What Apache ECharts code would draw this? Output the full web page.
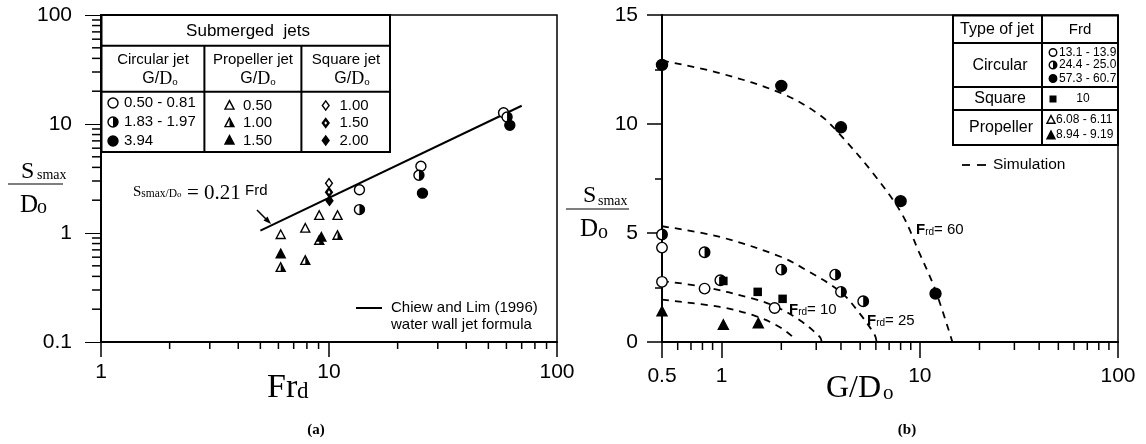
<!DOCTYPE html>
<html>
<head>
<meta charset="utf-8">
<script src="https://cdn.jsdelivr.net/npm/echarts@6/dist/echarts.min.js"></script>
<style>
  html, body { margin: 0; padding: 0; background: #fff; }
  #wrap { position: relative; width: 1146px; height: 444px; }
  #axes, #plot { position: absolute; left: 0; top: 0; width: 1146px; height: 444px; }
</style>
</head>
<body>
<div id="wrap"><div id="axes"></div><div id="plot"></div></div>
<script>
// ---------- (a) Ssmax/Do against densimetric Froude number Frd ----------
// Circular jets, by G/Do class
const circOpenA = [[13.6, 2.49], [25.3, 4.1], [58.3, 12.7]];     // G/Do 0.50 - 0.81
const circHalfA = [[13.6, 1.64], [24.8, 3.39], [60.4, 11.6]];    // G/Do 1.83 - 1.97
const circFullA = [[25.7, 2.32], [62.1, 9.72]];                  // G/Do 3.94
// Propeller jets
const propOpenA = [[6.14, 0.96], [7.87, 1.10], [9.06, 1.44], [10.9, 1.44]];  // G/Do 0.50
const propHalfA = [[6.14, 0.48], [7.87, 0.556], [9.06, 0.85], [10.9, 0.945]]; // G/Do 1.00
const propFullA = [[6.14, 0.64], [9.26, 0.91]];                               // G/Do 1.50
// Square jets
const sqOpenA = [[10.0, 2.86]];   // G/Do 1.00
const sqHalfA = [[10.0, 2.37]];   // G/Do 1.50
const sqFullA = [[10.05, 1.98]];  // G/Do 2.00
// Chiew and Lim (1996): Ssmax/Do = 0.21 Frd
const fitCoef = 0.21;
const fitFrd = [5, 70];

// ---------- (b) Ssmax/Do against G/Do ----------
const circOpenB = [[0.5, 4.33], [0.5, 2.76], [0.82, 2.45], [1.85, 1.56]];               // Frd 13.1 - 13.9
const circHalfB = [[0.5, 4.93], [0.82, 4.12], [0.985, 2.83], [2.0, 3.32], [3.74, 3.09], [4.0, 2.30], [5.18, 1.87]]; // Frd 24.4 - 25.0
const circFullB = [[0.5, 12.71], [2.0, 11.75], [4.0, 9.85], [8.0, 6.46], [12.0, 2.22]]; // Frd 57.3 - 60.7
const squareB = [[1.02, 2.80], [1.52, 2.30], [2.03, 1.98]];                              // Frd 10
const propFullB = [[0.5, 1.38], [1.02, 0.77], [1.53, 0.84]];                             // Frd 8.94 - 9.19
// Simulation curves
const sim60 = [[0.5, 12.91], [0.98, 12.33], [2.0, 11.41], [3.13, 10.41], [3.98, 9.49], [5.82, 7.73], [8.09, 5.90], [9.97, 4.06], [11.9, 2.45], [14.6, 0]];
const sim25 = [[0.5, 5.31], [0.98, 4.82], [2.0, 3.90], [2.68, 3.29], [3.98, 2.30], [4.98, 1.30], [5.93, 0.31], [6.05, 0]];
const sim10 = [[0.5, 2.80], [0.806, 2.53], [1.44, 1.99], [1.89, 1.61], [2.48, 1.00], [3.13, 0.23], [3.2, 0]];
const sim6 = [[0.5, 1.94], [0.98, 1.61], [1.44, 1.23], [1.89, 0.77], [2.29, 0.23], [2.35, 0]];

// Minor tick values on the log axes
const minorLogA_x = [2, 3, 4, 5, 6, 7, 8, 9, 20, 30, 40, 50, 60, 70, 80, 90];
const minorLogA_y = [0.2, 0.3, 0.4, 0.5, 0.6, 0.7, 0.8, 0.9, 2, 3, 4, 5, 6, 7, 8, 9, 20, 30, 40, 50, 60, 70, 80, 90];
const minorLogB_x = [0.6, 0.7, 0.8, 0.9, 2, 3, 4, 5, 6, 7, 8, 9, 20, 30, 40, 50, 60, 70, 80, 90];

const SANS = '"Liberation Sans", Arial, sans-serif';
const SERIF = '"Liberation Serif", "Times New Roman", serif';
const K = '#000', W = '#fff';

// Shared layout of the two panels
const gridA = { left: 101, top: 15, width: 456, height: 327 };
const gridB = { left: 662, top: 15, width: 456, height: 327 };

// Marker drawing shared by plot series and table keys
function markerParts(kind, fill, x, y, s, z) {
  const lw = 1.4, h = s / 2;
  let parts;
  if (kind === 'circle') {
    parts = [{ type: 'circle', shape: { cx: x, cy: y, r: h }, style: { fill: fill === 'full' ? K : W, stroke: K, lineWidth: lw } }];
    if (fill === 'half') parts.push({ type: 'sector', shape: { cx: x, cy: y, r0: 0, r: h, startAngle: -Math.PI / 2, endAngle: Math.PI / 2, clockwise: true }, style: { fill: K } });
  } else if (kind === 'triangle') {
    const top = [x, y - 0.55 * s], bl = [x - h, y + 0.4 * s], br = [x + h, y + 0.4 * s];
    parts = [{ type: 'polygon', shape: { points: [top, br, bl] }, style: { fill: fill === 'full' ? K : W, stroke: K, lineWidth: lw } }];
    if (fill === 'half') parts.push({ type: 'polygon', shape: { points: [top, br, [x, y + 0.4 * s]] }, style: { fill: K } });
  } else if (kind === 'diamond') {
    const pts = [[x, y - h * 1.15], [x + h * 0.85, y], [x, y + h * 1.15], [x - h * 0.85, y]];
    parts = [{ type: 'polygon', shape: { points: pts }, style: { fill: fill === 'open' ? W : K, stroke: K, lineWidth: lw } }];
    if (fill === 'half') parts.push({ type: 'polygon', shape: { points: pts.map(p => [x + (p[0] - x) * 0.4, y + (p[1] - y) * 0.4]) }, style: { fill: W } });
  } else {
    parts = [{ type: 'rect', shape: { x: x - h, y: y - h, width: s, height: s }, style: { fill: K } }];
  }
  if (z) parts.forEach((p, i) => { p.z = z; p.z2 = i; });
  return parts;
}

function markerSeries(data, kind, fill, size, idx) {
  return {
    type: 'custom', xAxisIndex: idx, yAxisIndex: idx, data: data, z: 6,
    renderItem: function (params, api) {
      const c = api.coord([api.value(0), api.value(1)]);
      return { type: 'group', children: markerParts(kind, fill, c[0], c[1], size) };
    }
  };
}

function simSeries(data) {
  return {
    type: 'line', xAxisIndex: 1, yAxisIndex: 1, data: data, smooth: 0.35, symbol: 'none', z: 4,
    lineStyle: { color: K, width: 1.8, type: [7, 6] }
  };
}

function txt(x, y, text, size, o) {
  o = o || {};
  return {
    type: 'text', x: x, y: y, z: 20, silent: true,
    style: {
      text: text, fill: K, fontSize: size, fontFamily: o.family || SANS, fontWeight: o.weight || 'normal',
      align: o.align || 'left', verticalAlign: 'middle', rich: o.rich
    }
  };
}
function ln(x1, y1, x2, y2, w) {
  return { type: 'line', z: 19, silent: true, shape: { x1: x1, y1: y1, x2: x2, y2: y2 }, style: { stroke: K, lineWidth: w || 2 } };
}
function keyGroup(kind, fill, x, y, s) {
  return { type: 'group', silent: true, children: markerParts(kind, fill, x, y, s, 21) };
}

const gdRich = {
  g: { fontFamily: SANS, fontSize: 16 },
  d: { fontFamily: SERIF, fontSize: 18 },
  o: { fontFamily: SERIF, fontSize: 11, verticalAlign: 'bottom' }
};
const gdText = '{g|G}{g|/}{d|D}{o|o}';
const frRich = {
  b: { fontFamily: SANS, fontSize: 15, fontWeight: 'bold' },
  s: { fontFamily: SANS, fontSize: 10, verticalAlign: 'bottom' },
  n: { fontFamily: SANS, fontSize: 15 }
};

const graphics = [
  // ---- table of submerged jets (a) ----
  { type: 'rect', z: 18, silent: true, shape: { x: 101.5, y: 15, width: 288.5, height: 137 }, style: { fill: W, stroke: K, lineWidth: 2 } },
  ln(101.5, 45.7, 390, 45.7), ln(101.5, 91.7, 390, 91.7),
  ln(204.4, 45.7, 204.4, 152), ln(301.4, 45.7, 301.4, 152),
  txt(248, 31, 'Submerged  jets', 17, { align: 'center' }),
  txt(153, 60, 'Circular jet', 15, { align: 'center' }),
  txt(253, 60, 'Propeller jet', 15, { align: 'center' }),
  txt(346, 60, 'Square jet', 15, { align: 'center' }),
  txt(160, 79, gdText, 16, { align: 'center', rich: gdRich }),
  txt(258, 79, gdText, 16, { align: 'center', rich: gdRich }),
  txt(352, 79, gdText, 16, { align: 'center', rich: gdRich }),
  keyGroup('circle', 'open', 113, 103, 10), txt(124, 103, '0.50 - 0.81', 15),
  keyGroup('circle', 'half', 113, 122, 10), txt(124, 122, '1.83 - 1.97', 15),
  keyGroup('circle', 'full', 113, 141, 10), txt(124, 141, '3.94', 15),
  keyGroup('triangle', 'open', 229.5, 105.5, 9), txt(243, 105.5, '0.50', 15),
  keyGroup('triangle', 'half', 229.5, 123, 9), txt(243, 123, '1.00', 15),
  keyGroup('triangle', 'full', 229.5, 140.5, 9), txt(243, 140.5, '1.50', 15),
  keyGroup('diamond', 'open', 325.7, 105.5, 8), txt(339.5, 105.5, '1.00', 15),
  keyGroup('diamond', 'half', 325.7, 123, 8), txt(339.5, 123, '1.50', 15),
  keyGroup('diamond', 'full', 325.7, 140.5, 8), txt(339.5, 140.5, '2.00', 15),
  // ---- Chiew and Lim key (a) ----
  ln(356, 308, 382, 308, 2),
  txt(391, 308, 'Chiew and Lim (1996)', 15),
  txt(391, 325, 'water wall jet formula', 15),
  // ---- formula annotation with arrow (a) ----
  txt(133, 192, '{S|S}{s|smax/D}{o|o}', 14, { family: SERIF, rich: {
    S: { fontFamily: SERIF, fontSize: 15 },
    s: { fontFamily: SERIF, fontSize: 11.5, verticalAlign: 'bottom' },
    o: { fontFamily: SERIF, fontSize: 9, verticalAlign: 'bottom' } } }),
  txt(187, 193, '= 0.21', 21, { family: SERIF }),
  txt(245, 191, 'Frd', 15),
  ln(257, 210, 268, 221, 1.5),
  { type: 'polygon', z: 19, silent: true, shape: { points: [[271, 224], [263.5, 220.5], [267.5, 216.5]] }, style: { fill: K } },
  // ---- axis titles (a) ----
  txt(21, 172, 'S', 24, { family: SERIF }),
  txt(37, 175.5, 'smax', 14, { family: SERIF }),
  { type: 'line', z: 19, silent: true, shape: { x1: 8, y1: 184, x2: 63, y2: 184 }, style: { stroke: '#555', lineWidth: 1.5 } },
  txt(20, 205, 'D', 25, { family: SERIF }),
  txt(37, 208, 'o', 20, { family: SERIF }),
  txt(267, 388, 'Fr', 34, { family: SERIF }),
  txt(297, 392, 'd', 23, { family: SERIF }),
  txt(316, 430, '(a)', 15, { family: SERIF, weight: 'bold', align: 'center' }),

  // ---- table of jet types (b) ----
  { type: 'rect', z: 18, silent: true, shape: { x: 953, y: 15.5, width: 165, height: 129.5 }, style: { fill: W, stroke: K, lineWidth: 2 } },
  ln(1042, 15.5, 1042, 145), ln(953, 43, 1118, 43), ln(953, 87, 1118, 87), ln(953, 110, 1118, 110),
  txt(997, 30, 'Type of jet', 16, { align: 'center' }),
  txt(1080, 30, 'Frd', 15, { align: 'center' }),
  txt(1000, 66, 'Circular', 16, { align: 'center' }),
  txt(1000, 99, 'Square', 16, { align: 'center' }),
  txt(1001, 128, 'Propeller', 16, { align: 'center' }),
  keyGroup('circle', 'open', 1053, 52.5, 7.5), txt(1059, 52.5, '13.1 - 13.9', 12),
  keyGroup('circle', 'half', 1053, 65, 7.5), txt(1059, 65, '24.4 - 25.0', 12),
  keyGroup('circle', 'full', 1053, 78.5, 7.5), txt(1059, 78.5, '57.3 - 60.7', 12),
  keyGroup('square', 'full', 1053, 99, 7), txt(1083, 99, '10', 12, { align: 'center' }),
  keyGroup('triangle', 'open', 1051, 120, 8), txt(1056, 119.5, '6.08 - 6.11', 12),
  keyGroup('triangle', 'full', 1051, 135.5, 8), txt(1056, 135, '8.94 - 9.19', 12),
  // ---- simulation key (b) ----
  ln(962, 165, 970, 165, 1.8), ln(977, 165, 986, 165, 1.8),
  txt(993, 165, 'Simulation', 15.5),
  // ---- curve labels (b) ----
  txt(916, 230, '{b|F}{s|rd}{n|= 60}', 15, { rich: frRich }),
  txt(789, 310, '{b|F}{s|rd}{n|= 10}', 15, { rich: frRich }),
  txt(867, 321, '{b|F}{s|rd}{n|= 25}', 15, { rich: frRich }),
  // ---- axis titles (b) ----
  txt(583, 195.5, 'S', 24, { family: SERIF }),
  txt(598, 201, 'smax', 14, { family: SERIF }),
  { type: 'line', z: 19, silent: true, shape: { x1: 566, y1: 209, x2: 629, y2: 209 }, style: { stroke: '#555', lineWidth: 1.5 } },
  txt(580, 229, 'D', 25, { family: SERIF }),
  txt(598, 233, 'o', 20, { family: SERIF }),
  txt(826, 389, 'G/D', 32, { family: SERIF }),
  txt(883, 393, 'o', 21, { family: SERIF }),
  txt(907, 430, '(b)', 15, { family: SERIF, weight: 'bold', align: 'center' })
];

// ---------- layer 1: frames, axes, ticks, tick labels, fit line ----------
const axesChart = echarts.init(document.getElementById('axes'), null, { renderer: 'canvas' });
axesChart.setOption({
  animation: false,
  backgroundColor: '#fff',
  grid: [
    { left: gridA.left, top: gridA.top, width: gridA.width, height: gridA.height, show: true, borderColor: K, borderWidth: 1.5, backgroundColor: 'transparent', containLabel: false },
    { left: gridB.left, top: gridB.top, width: gridB.width, height: gridB.height, show: true, borderColor: K, borderWidth: 1.5, backgroundColor: 'transparent', containLabel: false, outerBoundsMode: 'none' }
  ],
  xAxis: [
    { gridIndex: 0, type: 'log', logBase: 10, min: 1, max: 100, axisLine: { show: true, lineStyle: { color: K, width: 2 } },
      axisTick: { show: true, length: 15, lineStyle: { color: K, width: 1.5 } }, axisLabel: { margin: 20, color: K, fontSize: 21, fontFamily: SANS }, splitLine: { show: false } },
    { gridIndex: 1, type: 'log', logBase: 10, min: 0.5, max: 100, axisLine: { show: true, lineStyle: { color: K, width: 2 } },
      axisTick: { show: true, length: 16, lineStyle: { color: K, width: 1.5 } }, axisLabel: { margin: 24, color: K, fontSize: 21 }, splitLine: { show: false } }
  ],
  yAxis: [
    { gridIndex: 0, type: 'log', logBase: 10, min: 0.1, max: 100, axisLine: { show: true, lineStyle: { color: K, width: 2 } },
      axisTick: { show: true, length: 16, lineStyle: { color: K } }, axisLabel: { margin: 29, color: K, fontSize: 21 }, splitLine: { show: false } },
    { gridIndex: 1, type: 'value', min: 0, max: 15, interval: 5, axisLine: { show: true, lineStyle: { color: K, width: 2 } },
      axisTick: { show: true, length: 15, lineStyle: { color: K, width: 1.5 } },
      minorTick: { show: true, splitNumber: 2, length: 7, lineStyle: { color: K, width: 1.5 } },
      axisLabel: { margin: 24, color: K, fontSize: 21 }, splitLine: { show: false }, minorSplitLine: { show: false } }
  ],
  series: [
    { type: 'line', xAxisIndex: 0, yAxisIndex: 0, symbol: 'none', showSymbol: false,
      data: fitFrd.map(f => [f, fitCoef * f]), lineStyle: { color: K, width: 2 } },
    markerSeries(circFullB, 'circle', 'full', 11, 1)
  ]
});

// Minor ticks for the log axes, positioned through each grid's scales
function minorTicks(values, dir, gridIndex, ref, len) {
  return values.map(v => {
    const p = axesChart.convertToPixel({ gridIndex: gridIndex }, dir === 'x' ? [v, ref] : [ref, v]);
    return dir === 'x'
      ? { type: 'line', shape: { x1: p[0], y1: p[1], x2: p[0], y2: p[1] + len }, style: { stroke: K, lineWidth: 1.5 } }
      : { type: 'line', shape: { x1: p[0] - len, y1: p[1], x2: p[0], y2: p[1] }, style: { stroke: K, lineWidth: 1.5 } };
  });
}
axesChart.setOption({ graphic: { elements: [].concat(
  minorTicks(minorLogA_x, 'x', 0, 0.1, 7),
  minorTicks(minorLogA_y, 'y', 0, 1, 9),
  minorTicks(minorLogB_x, 'x', 1, 0, 8)
) } });

// ---------- layer 2: data marks, curves, tables and annotations ----------
const plotChart = echarts.init(document.getElementById('plot'), null, { renderer: 'canvas' });
plotChart.setOption({
  animation: false,
  backgroundColor: 'transparent',
  grid: [
    { left: gridA.left, top: gridA.top, width: gridA.width, height: gridA.height, show: false, containLabel: false, outerBoundsMode: 'none' },
    { left: gridB.left, top: gridB.top, width: gridB.width, height: gridB.height, show: false, containLabel: false, outerBoundsMode: 'none' }
  ],
  xAxis: [
    { gridIndex: 0, type: 'log', logBase: 10, min: 1, max: 100, show: false },
    { gridIndex: 1, type: 'log', logBase: 10, min: 0.5, max: 100, show: false }
  ],
  yAxis: [
    { gridIndex: 0, type: 'log', logBase: 10, min: 0.1, max: 100, show: false },
    { gridIndex: 1, type: 'value', min: 0, max: 15, interval: 5, show: false }
  ],
  series: [
    markerSeries(propOpenA, 'triangle', 'open', 9, 0),
    markerSeries(propHalfA, 'triangle', 'half', 9, 0),
    markerSeries(propFullA, 'triangle', 'full', 9, 0),
    markerSeries(sqOpenA, 'diamond', 'open', 8, 0),
    markerSeries(sqHalfA, 'diamond', 'half', 8, 0),
    markerSeries(sqFullA, 'diamond', 'full', 8, 0),
    markerSeries(circOpenA, 'circle', 'open', 10, 0),
    markerSeries(circHalfA, 'circle', 'half', 10, 0),
    markerSeries(circFullA, 'circle', 'full', 10, 0),
    simSeries(sim60), simSeries(sim25), simSeries(sim10), simSeries(sim6),
    markerSeries(circOpenB, 'circle', 'open', 10.5, 1),
    markerSeries(circHalfB, 'circle', 'half', 10.5, 1),
    markerSeries(squareB, 'square', 'full', 8.5, 1),
    markerSeries(propFullB, 'triangle', 'full', 10, 1)
  ],
  graphic: { elements: graphics }
});
</script>
</body>
</html>
